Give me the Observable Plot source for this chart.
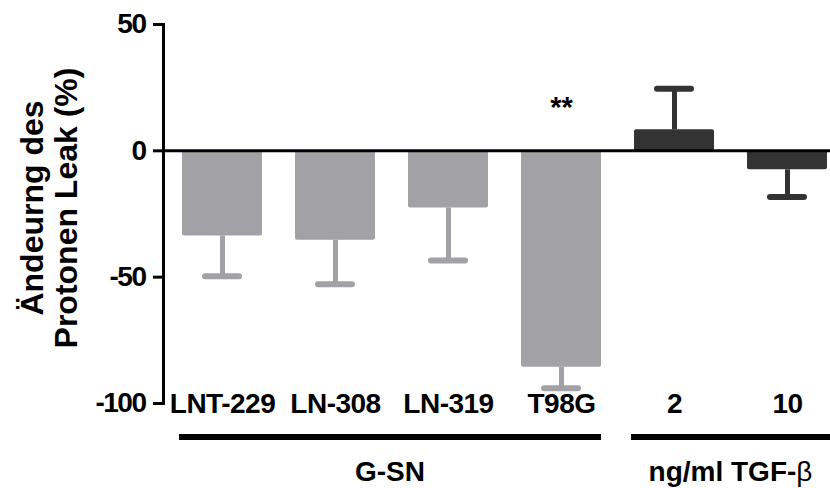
<!DOCTYPE html>
<html><head><meta charset="utf-8">
<script src="https://cdn.jsdelivr.net/npm/d3@7"></script>
<script src="https://cdn.jsdelivr.net/npm/@observablehq/plot@0.6"></script>
<style>body{margin:0;background:#fff;overflow:hidden} svg{display:block}</style>
</head><body><div id="chart"></div>
<script>
const categories = ["LNT-229", "LN-308", "LN-319", "T98G", "2", "10"];
const groupOf = ["G-SN", "G-SN", "G-SN", "G-SN", "TGF", "TGF"];
const means = [-33.7, -35.4, -22.6, -85.7, 8.3, -7.5];
const errors = [15.9, 17.4, 20.8, 8.3, 16.3, 10.8];
const yTicks = [50, 0, -50, -100];
const groupKeys = ["G-SN", "TGF"];
const groupLabels = ["G-SN", "ng/ml TGF-"];
const groupSymbols = ["", "β"];
const groupFirst = ["LNT-229", "2"];
const groupLast = ["T98G", "10"];
const groupColors = ["#a2a1a6", "#333333"];
const sigCats = ["T98G"];
const sigLabels = ["**"];
const sigY = [17];
const yTitle = ["Ändeurng des", "Protonen Leak (%)"];

const rows = categories.map((c, i) => ({
  cat: c, group: groupOf[i], mean: means[i], err: errors[i],
  end: means[i] + Math.sign(means[i]) * errors[i]
}));
const sig = sigCats.map((c, i) => ({cat: c, label: sigLabels[i], y: sigY[i]}));

const font = "'Liberation Sans', Arial, Helvetica, sans-serif";

const chart = Plot.plot({
  width: 830, height: 488,
  marginLeft: 163, marginRight: 0, marginTop: 24, marginBottom: 85,
  style: {fontFamily: font, fontWeight: "bold", fontSize: "28px", color: "#000", background: "#fff"},
  x: {domain: categories, paddingInner: 0.29, paddingOuter: 0.088, align: 0.85, label: null},
  y: {domain: [-100, 50], label: null},
  color: {domain: groupKeys, range: groupColors},
  marks: [
    Plot.ruleX(rows, {x: "cat", y1: "mean", y2: "end", stroke: "group", strokeWidth: 5}),
    Plot.tickY(rows, {x: "cat", y: "end", stroke: "group", strokeWidth: 6, strokeLinecap: "round", insetLeft: 23, insetRight: 23}),
    Plot.barY(rows, {x: "cat", y: "mean", fill: "group", rx: 2}),
    Plot.ruleY([0], {stroke: "#000", strokeWidth: 3}),
    Plot.frame({anchor: "left", stroke: "#000", strokeWidth: 3}),
    Plot.axisY({ticks: yTicks, tickSize: 10, tickPadding: 8, strokeWidth: 3, tickFormat: d => String(d), label: null, fontSize: 28}),
    Plot.axisX({tickSize: 0, tickPadding: 0, dy: -10, label: null, fontSize: 28}),
    Plot.text(sig, {x: "cat", y: "y", text: "label", fontSize: 29, fontWeight: "bold"})
  ]
});

document.getElementById("chart").appendChild(chart);

const svg = d3.select(chart);
svg.selectAll('[aria-label="y-axis tick label"] text').attr("letter-spacing", "-1.5px");
svg.selectAll('[aria-label="x-axis tick label"] text').attr("letter-spacing", "-0.5px");

const xs = chart.scale("x");
const bw = xs.bandwidth;
groupLabels.forEach((g, i) => {
  const x1 = xs.apply(groupFirst[i]) - 3;
  const x2 = i === groupLabels.length - 1 ? 830 : xs.apply(groupLast[i]) + bw;
  svg.append("line").attr("x1", x1).attr("x2", x2).attr("y1", 437).attr("y2", 437)
    .attr("stroke", "#000").attr("stroke-width", 6);
  const t = svg.append("text").attr("x", (x1 + x2) / 2).attr("y", 481).attr("text-anchor", "middle")
    .attr("font-family", font).attr("font-weight", "bold").attr("font-size", 28).attr("fill", "#000");
  t.append("tspan").text(g);
  if (groupSymbols[i]) t.append("tspan").attr("font-weight", "normal").text(groupSymbols[i]);
});
const tx = [43, 77];
yTitle.forEach((t, i) => {
  svg.append("text").attr("transform", `translate(${tx[i]},208) rotate(-90)`).attr("text-anchor", "middle")
    .attr("font-family", font).attr("font-weight", "bold").attr("font-size", 32).attr("fill", "#000").text(t);
});
</script>
</body></html>
